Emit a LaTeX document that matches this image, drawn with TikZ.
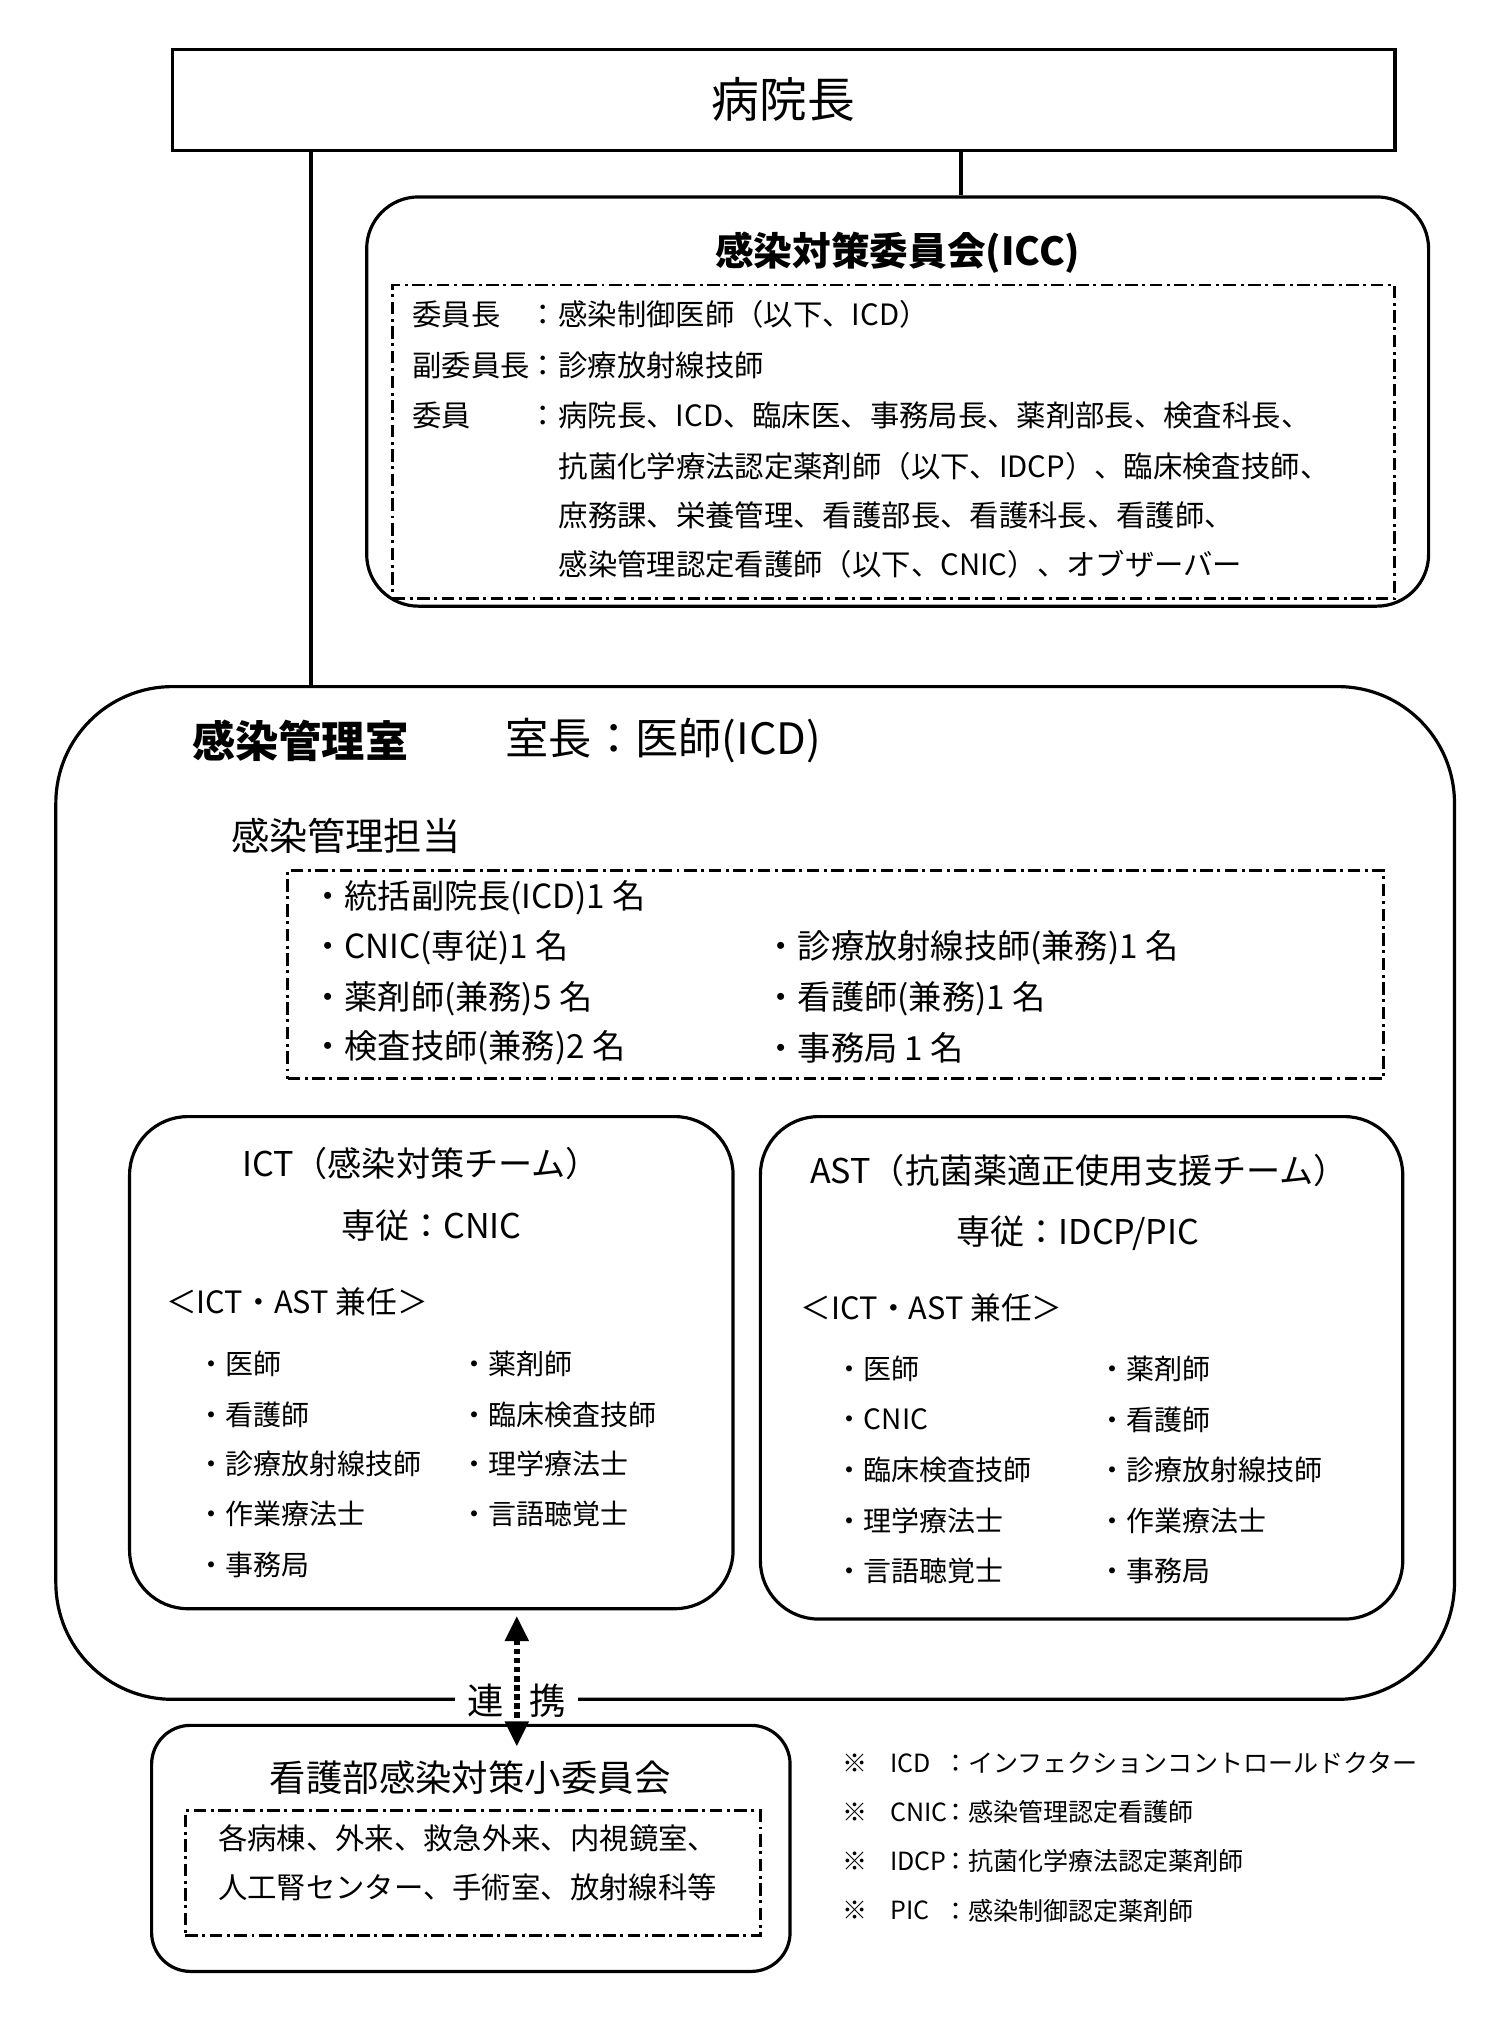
\documentclass[tikz,border=0pt]{standalone}
\usepackage{fontspec}
\setmainfont{Noto Sans CJK JP}
\usetikzlibrary{arrows.meta,positioning}

\begin{document}
\begin{tikzpicture}[x=0.02cm,y=-0.02cm,
  frame/.style={draw,line width=1.4pt,inner sep=0pt},
  chainbox/.style={draw,line width=1.3pt,inner sep=0pt,dash pattern=on 5.5pt off 2pt on 1.3pt off 2pt},
  link/.style={line width=1.8pt},
  linkarrow/.style={line width=2.4pt,dash pattern=on 2.4pt off 1.6pt,{Triangle[width=10pt,length=11pt]}-{Triangle[width=10pt,length=11pt]}},
  bodytxt/.style={anchor=west,inner sep=0pt,font=\fontsize{12.9}{15}\selectfont},
  stafftxt/.style={anchor=west,inner sep=0pt,font=\fontsize{14.6}{17}\selectfont},
  itemtxt/.style={anchor=west,inner sep=0pt,font=\fontsize{12.3}{15}\selectfont},
  notetxt/.style={anchor=west,inner sep=0pt,font=\fontsize{11}{13}\selectfont}]
\useasboundingbox (0,0) rectangle (1167,1568);

% top
\node[frame,minimum width=18.88cm,minimum height=1.56cm,font=\fontsize{21}{24}\selectfont] (head) at (605,77) {病院長};

% ICC
\node[frame,rounded corners=0.8cm,minimum width=16.4cm,minimum height=6.32cm] (icc) at (693,310) {};
\node[font=\fontsize{17}{20}\selectfont\bfseries] (icc-title) at (693,195) {感染対策委員会(ICC)};
\node[chainbox,minimum width=15.48cm,minimum height=4.84cm] (icc-list) at (690,341) {};
\foreach \i/\y/\a/\b in {1/243/委員長/感染制御医師（以下、ICD）,2/282/副委員長/診療放射線技師,3/321/委員/病院長、ICD、臨床医、事務局長、薬剤部長、検査科長、}{
  \node[bodytxt] (icc-role\i) at (318,\y) {\a};
  \node[bodytxt] (icc-mem\i) at (408,\y) {：\b};
}
\foreach \i/\y/\b in {4/360/抗菌化学療法認定薬剤師（以下、IDCP）、臨床検査技師、,5/398/庶務課、栄養管理、看護部長、看護科長、看護師、,6/436/感染管理認定看護師（以下、CNIC）、オブザーバー}
  \node[bodytxt] (icc-mem\i) at (431,\y) {\b};

% infection control office
\node[frame,rounded corners=1.8cm,minimum width=21.6cm,minimum height=15.64cm] (room) at (583,921) {};
\node[anchor=west,inner sep=0pt,font=\fontsize{19}{22}\selectfont\bfseries] (room-title) at (148,572) {感染管理室};
\node[anchor=west,inner sep=0pt,font=\fontsize{19}{22}\selectfont] (room-chief) at (390,572) {室長：医師(ICD)};
\node[anchor=west,inner sep=0pt,font=\fontsize{16.8}{20}\selectfont] (staff-title) at (178,645) {感染管理担当};
\node[chainbox,minimum width=16.92cm,minimum height=3.22cm] (staff) at (645,752.5) {};
\foreach \i/\y/\a in {1/693/統括副院長(ICD)1 名,2/732/CNIC(専従)1 名,3/771/薬剤師(兼務)5 名,4/809/検査技師(兼務)2 名}
  \node[stafftxt] (staff-a\i) at (240,\y) {・\a};
\foreach \i/\y/\a in {2/732/診療放射線技師(兼務)1 名,3/771/看護師(兼務)1 名,4/809/事務局 1 名}
  \node[stafftxt] (staff-b\i) at (590,\y) {・\a};

% ICT
\node[frame,rounded corners=0.9cm,minimum width=9.32cm,minimum height=7.6cm] (ict) at (333,1052) {};
\node[font=\fontsize{15}{18}\selectfont] (ict-title) at (325,898) {ICT（感染対策チーム）};
\node[font=\fontsize{15}{18}\selectfont] (ict-lead) at (333,946) {専従：CNIC};
\node[itemtxt,font=\fontsize{13.5}{16}\selectfont] (ict-sub) at (128,1005) {＜ICT・AST 兼任＞};
\foreach \i/\y/\a in {1/1053/医師,2/1092/看護師,3/1130/診療放射線技師,4/1169/作業療法士,5/1208/事務局}
  \node[itemtxt] (ict-a\i) at (152,\y) {・\a};
\foreach \i/\y/\a in {1/1053/薬剤師,2/1092/臨床検査技師,3/1130/理学療法士,4/1169/言語聴覚士}
  \node[itemtxt] (ict-b\i) at (355,\y) {・\a};

% AST
\node[frame,rounded corners=0.9cm,minimum width=9.92cm,minimum height=7.76cm] (ast) at (835,1056) {};
\node[font=\fontsize{15}{18}\selectfont] (ast-title) at (833,904) {AST（抗菌薬適正使用支援チーム）};
\node[font=\fontsize{15}{18}\selectfont] (ast-lead) at (832,952) {専従：IDCP/PIC};
\node[itemtxt,font=\fontsize{13.5}{16}\selectfont] (ast-sub) at (618,1010) {＜ICT・AST 兼任＞};
\foreach \i/\y/\a in {1/1057/医師,2/1096/CNIC,3/1135/臨床検査技師,4/1174/理学療法士,5/1213/言語聴覚士}
  \node[itemtxt] (ast-a\i) at (645,\y) {・\a};
\foreach \i/\y/\a in {1/1057/薬剤師,2/1096/看護師,3/1135/診療放射線技師,4/1174/作業療法士,5/1213/事務局}
  \node[itemtxt] (ast-b\i) at (848,\y) {・\a};

% nursing committee
\node[frame,rounded corners=0.6cm,minimum width=9.86cm,minimum height=3.8cm] (kango) at (363.5,1427) {};
\node[font=\fontsize{16}{19}\selectfont] (kango-title) at (363,1372) {看護部感染対策小委員会};
\node[chainbox,minimum width=8.88cm,minimum height=1.92cm] (kango-list) at (365,1446) {};
\node[bodytxt] (kango-l1) at (168,1419) {各病棟、外来、救急外来、内視鏡室、};
\node[bodytxt] (kango-l2) at (168,1457) {人工腎センター、手術室、放射線科等};

% connectors
\coordinate (lx) at (240,0);
\coordinate (rx) at (742,0);
\draw[link] (head.south -| lx) -- (room.north -| lx);
\draw[link] (head.south -| rx) -- (icc.north -| rx);
\node[fill=white,inner sep=0pt,minimum width=1.9cm,minimum height=0.7cm,font=\fontsize{16}{19}\selectfont] (renkei) at (399,1313) {連\hspace{0.7em}携};
\draw[linkarrow] ([yshift=-2.5pt]ict.south -| renkei) -- ([yshift=-10pt]kango.north -| renkei);

% notes
\foreach \i/\y/\a/\b in {1/1361/ICD/インフェクションコントロールドクター,2/1399/CNIC/感染管理認定看護師,3/1437/IDCP/抗菌化学療法認定薬剤師,4/1475/PIC/感染制御認定薬剤師}{
  \node[notetxt] (note-m\i) at (650,\y) {※};
  \node[notetxt] (note-a\i) at (687,\y) {\a};
  \node[notetxt] (note-b\i) at (728,\y) {：\b};
}
\end{tikzpicture}
\end{document}
